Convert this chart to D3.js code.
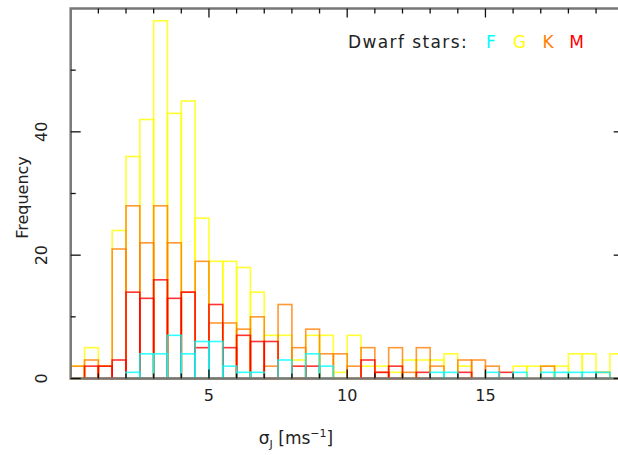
<!DOCTYPE html>
<html>
<head>
<meta charset="utf-8">
<script src="https://cdn.jsdelivr.net/npm/d3@7"></script>
<style>
  body { margin: 0; background: #fff; }
  svg { display: block; font-family: "DejaVu Sans", sans-serif; }
</style>
</head>
<body>
<div id="chart"></div>
<script>
// Bin starts (bin width 0.5 m/s)
const binStart = [0, 0.5, 1, 1.5, 2, 2.5, 3, 3.5, 4, 4.5,
  5, 5.5, 6, 6.5, 7, 7.5, 8, 8.5, 9, 9.5,
  10, 10.5, 11, 11.5, 12, 12.5, 13, 13.5, 14, 14.5,
  15, 15.5, 16, 16.5, 17, 17.5, 18, 18.5, 19, 19.5];
const binWidth = 0.5;

// Counts per bin for each spectral type
const countsG = [2, 5, 2, 24, 36, 42, 58, 43, 45, 26, 19, 19, 18, 14, 7, 7, 3, 7, 7, 1,
  7, 2, 2, 1, 3, 3, 3, 4, 2, 0, 0, 0, 2, 2, 2, 2, 4, 4, 1, 4];
const countsK = [2, 3, 2, 21, 28, 22, 28, 22, 14, 19, 9, 9, 8, 10, 2, 12, 5, 8, 4, 4,
  2, 5, 1, 5, 1, 5, 2, 0, 3, 3, 2, 0, 0, 0, 2, 0, 0, 0, 1, 0];
const countsM = [0, 2, 2, 3, 14, 13, 16, 13, 14, 5, 12, 5, 7, 6, 6, 0, 2, 2, 0, 0,
  0, 3, 1, 2, 0, 1, 0, 0, 1, 0, 0, 1, 0, 0, 0, 0, 0, 0, 0, 0];
const countsF = [0, 0, 0, 0, 1, 4, 4, 7, 4, 6, 6, 2, 1, 1, 0, 3, 0, 4, 2, 0,
  0, 0, 0, 0, 0, 0, 1, 1, 0, 0, 1, 0, 1, 0, 1, 1, 1, 1, 1, 0];

const seriesNames = ["G", "K", "M", "F"];
const seriesColors = ["#ffff00", "#ff8000", "#ff0000", "#00ffff"];
const seriesCounts = [countsG, countsK, countsM, countsF];

const legendNames = ["F", "G", "K", "M"];
const legendColors = ["#00ffff", "#ffff00", "#ff8000", "#ff0000"];

const xTicksMajor = [5, 10, 15];
const xTicksMinor = [1, 2, 3, 4, 6, 7, 8, 9, 11, 12, 13, 14, 16, 17, 18, 19];
const yTicksMajor = [0, 20, 40];
const yTicksMinor = [10, 30, 50];

const width = 618;
const height = 455;
const marginLeft = 70.7;
const marginTop = 8.5;
const marginBottom = 76.5;

const x = d3.scaleLinear([0, 20], [marginLeft, 623.7]);
const y = d3.scaleLinear([0, 60], [height - marginBottom, marginTop]);

const svg = d3.create("svg")
  .attr("width", width)
  .attr("height", height)
  .attr("viewBox", [0, 0, width, height]);

d3.select("#chart").append(() => svg.node());

// histogram outlines
seriesNames.forEach((name, i) => {
  const data = binStart.map((b, j) => ({b, v: seriesCounts[i][j]}));
  svg.append("g")
    .attr("fill", "none")
    .attr("stroke", seriesColors[i])
    .attr("stroke-width", 1.6)
    .attr("stroke-opacity", 0.8)
    .selectAll("rect")
    .data(data)
    .join("rect")
      .attr("x", d => x(d.b))
      .attr("width", d => x(d.b + binWidth) - x(d.b))
      .attr("y", d => y(d.v))
      .attr("height", d => y(0) - y(d.v));
});

// frame
const x0 = x(0), x1 = x(20), y0 = y(0), y1 = y(60);
svg.append("path")
  .attr("fill", "none")
  .attr("stroke", "#777")
  .attr("stroke-width", 2.5)
  .attr("d", `M${x0},${y0}H${x1}V${y1}H${x0}Z`);

// ticks
const tickG = svg.append("g").attr("stroke", "#111").attr("stroke-width", 1.3);
[[xTicksMajor, 9], [xTicksMinor, 5]].forEach(([ticks, len]) => {
  ticks.forEach(t => {
    tickG.append("line").attr("x1", x(t)).attr("x2", x(t)).attr("y1", y1).attr("y2", y1 + len);
    tickG.append("line").attr("x1", x(t)).attr("x2", x(t)).attr("y1", y0).attr("y2", y0 - len);
  });
});
[[yTicksMajor, 10], [yTicksMinor, 5]].forEach(([ticks, len]) => {
  ticks.forEach(t => {
    tickG.append("line").attr("x1", x0).attr("x2", x0 + len).attr("y1", y(t)).attr("y2", y(t));
    tickG.append("line").attr("x1", x1).attr("x2", x1 - len).attr("y1", y(t)).attr("y2", y(t));
  });
});

// tick labels
svg.append("g")
  .attr("fill", "#222")
  .attr("font-size", 16)
  .attr("text-anchor", "middle")
  .selectAll("text")
  .data(xTicksMajor)
  .join("text")
    .attr("x", d => x(d))
    .attr("y", 401)
    .text(d => d);

svg.append("g")
  .attr("fill", "#222")
  .attr("font-size", 16)
  .attr("text-anchor", "middle")
  .selectAll("text")
  .data(yTicksMajor)
  .join("text")
    .attr("transform", d => `translate(47,${y(d)}) rotate(-90)`)
    .text(d => d);

// axis titles
svg.append("text")
  .attr("transform", `translate(28,${(y0 + y1) / 2 + 4}) rotate(-90)`)
  .attr("text-anchor", "middle")
  .attr("font-size", 16)
  .attr("fill", "#222")
  .text("Frequency");

const xt = svg.append("text")
  .attr("x", 296)
  .attr("y", 444)
  .attr("text-anchor", "middle")
  .attr("font-size", 17)
  .attr("fill", "#222");
xt.append("tspan").text("σ");
xt.append("tspan").attr("font-size", 11).attr("dy", 4).text("J");
xt.append("tspan").attr("dy", -4).text(" [ms");
xt.append("tspan").attr("font-size", 11).attr("dy", -7).text("−1");
xt.append("tspan").attr("dy", 7).text("]");

// legend
svg.append("text")
  .attr("x", 348)
  .attr("y", 48)
  .attr("font-size", 17)
  .attr("letter-spacing", 1.4)
  .attr("fill", "#222")
  .text("Dwarf stars:");

svg.append("g")
  .attr("font-size", 17)
  .attr("text-anchor", "middle")
  .selectAll("text")
  .data(legendNames)
  .join("text")
    .attr("x", (d, i) => 491 + i * 28.5)
    .attr("y", 48)
    .attr("fill", (d, i) => legendColors[i])
    .text(d => d);
</script>
</body>
</html>
